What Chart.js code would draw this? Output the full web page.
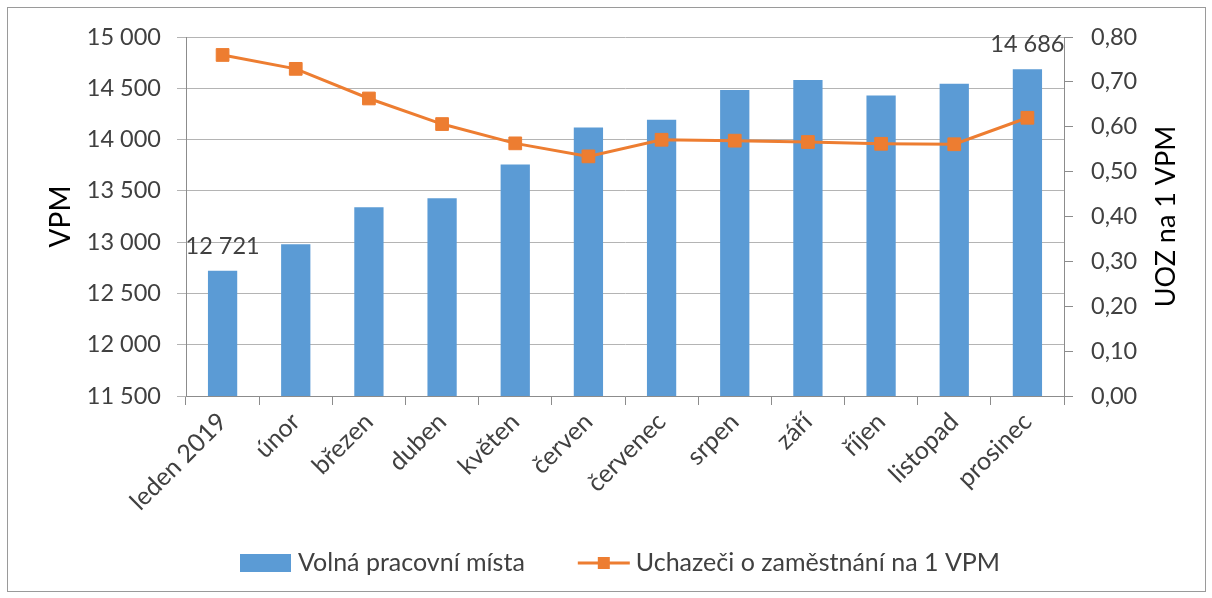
<!DOCTYPE html>
<html>
<head>
<meta charset="utf-8">
<script src="https://cdn.jsdelivr.net/npm/chart.js@4"></script>
<style>
  html, body { margin: 0; padding: 0; background: #fff; }
  #wrap { width: 1212px; height: 598px; position: relative; }
</style>
</head>
<body>
<div id="wrap"><canvas id="chart" width="1212" height="598"></canvas></div>
<script>
// data
const months = ["leden 2019", "únor", "březen", "duben", "květen", "červen",
  "červenec", "srpen", "září", "říjen", "listopad", "prosinec"];
const vpm = [12721, 12980, 13341, 13429, 13757, 14118, 14193, 14483, 14581, 14430, 14544, 14686];
const uozNaVpm = [0.760, 0.729, 0.663, 0.606, 0.563, 0.534, 0.571, 0.569, 0.566, 0.562, 0.561, 0.620];
const labelledBars = [0, 11];

const leftTitle = "VPM";
const rightTitle = "UOZ na 1 VPM";
const barName = "Volná pracovní místa";
const lineName = "Uchazeči o zaměstnání na 1 VPM";

const FONT = "Lato, 'Open Sans', sans-serif";
const TXT = "#404040";
const BLUE = "#5B9BD5";
const ORANGE = "#ED7D31";
const GRID = "#b4b4b4";
const AXIS = "#8c8c8c";

const fmtThousands = v => String(Math.round(v)).replace(/\B(?=(\d{3})+(?!\d))/g, " ");
const fmtDec = v => v.toFixed(2).replace(".", ",");

const extras = {
  id: "extras",
  afterDraw(chart) {
    const ctx = chart.ctx;
    const area = chart.chartArea;
    ctx.save();

    // outer frame
    ctx.strokeStyle = "#9a9a9a";
    ctx.lineWidth = 1;
    ctx.strokeRect(7.5, 7.5, 1198, 584);

    // data labels on first and last bar
    ctx.fillStyle = TXT;
    ctx.font = "23.5px " + FONT;
    ctx.textAlign = "center";
    ctx.textBaseline = "bottom";
    const meta = chart.getDatasetMeta(1);
    labelledBars.forEach(i => {
      const bar = meta.data[i];
      ctx.fillText(fmtThousands(vpm[i]), bar.x, bar.y - 13);
    });

    // right axis title, reading bottom to top
    ctx.fillStyle = "#000";
    ctx.font = "27px " + FONT;
    ctx.textBaseline = "middle";
    ctx.translate(1166, (area.top + area.bottom) / 2);
    ctx.rotate(-Math.PI / 2);
    ctx.fillText(rightTitle, 0, 0);
    ctx.setTransform(1, 0, 0, 1, 0, 0);

    // legend
    const ly = 563;
    let x = 240;
    ctx.font = "25px " + FONT;
    ctx.textAlign = "left";
    ctx.fillStyle = BLUE;
    ctx.fillRect(x, ly - 9, 51, 18);
    x += 58;
    ctx.fillStyle = TXT;
    ctx.fillText(barName, x, ly);
    x += ctx.measureText(barName).width + 53;
    ctx.strokeStyle = ORANGE;
    ctx.lineWidth = 3;
    ctx.beginPath();
    ctx.moveTo(x, ly);
    ctx.lineTo(x + 52, ly);
    ctx.stroke();
    ctx.fillStyle = ORANGE;
    ctx.fillRect(x + 26 - 6, ly - 6, 12, 12);
    x += 58;
    ctx.fillStyle = TXT;
    ctx.fillText(lineName, x, ly);

    ctx.restore();
  }
};

new Chart(document.getElementById("chart"), {
  data: {
    labels: months,
    datasets: [
      {
        type: "line",
        label: lineName,
        data: uozNaVpm,
        yAxisID: "y2",
        borderColor: ORANGE,
        backgroundColor: ORANGE,
        borderWidth: 3,
        pointStyle: "rect",
        pointRadius: 9,
        pointBorderWidth: 1,
        tension: 0,
        order: 1
      },
      {
        type: "bar",
        label: barName,
        data: vpm,
        yAxisID: "y",
        backgroundColor: BLUE,
        barPercentage: 0.4,
        categoryPercentage: 1,
        order: 2
      }
    ]
  },
  options: {
    responsive: false,
    animation: false,
    layout: { padding: { top: 37, left: 0, right: 0, bottom: 60 } },
    plugins: {
      legend: { display: false },
      tooltip: { enabled: false }
    },
    scales: {
      x: {
        grid: { drawOnChartArea: false, color: AXIS, tickLength: 9, offset: true },
        border: { color: AXIS },
        ticks: {
          color: TXT,
          font: { family: FONT, size: 25 },
          minRotation: 45,
          maxRotation: 45,
          padding: 2
        },
        afterFit(scale) { scale.height = 142; }
      },
      y: {
        position: "left",
        min: 11500,
        max: 15000,
        grid: { color: GRID, tickLength: 9 },
        border: { color: AXIS },
        ticks: {
          stepSize: 500,
          color: TXT,
          font: { family: FONT, size: 23.5 },
          padding: 16,
          callback: v => fmtThousands(v)
        },
        title: {
          display: true,
          text: leftTitle,
          color: "#000",
          font: { family: FONT, size: 28 },
          padding: { top: 44, bottom: 0 }
        },
        afterFit(scale) { scale.width = 186; }
      },
      y2: {
        position: "right",
        min: 0,
        max: 0.8,
        grid: { drawOnChartArea: false, color: AXIS, tickLength: 9 },
        border: { color: AXIS },
        ticks: {
          stepSize: 0.1,
          color: TXT,
          font: { family: FONT, size: 23.5 },
          padding: 18,
          callback: v => fmtDec(v)
        },
        afterFit(scale) { scale.width = 148; }
      }
    }
  },
  plugins: [extras]
});
</script>
</body>
</html>
